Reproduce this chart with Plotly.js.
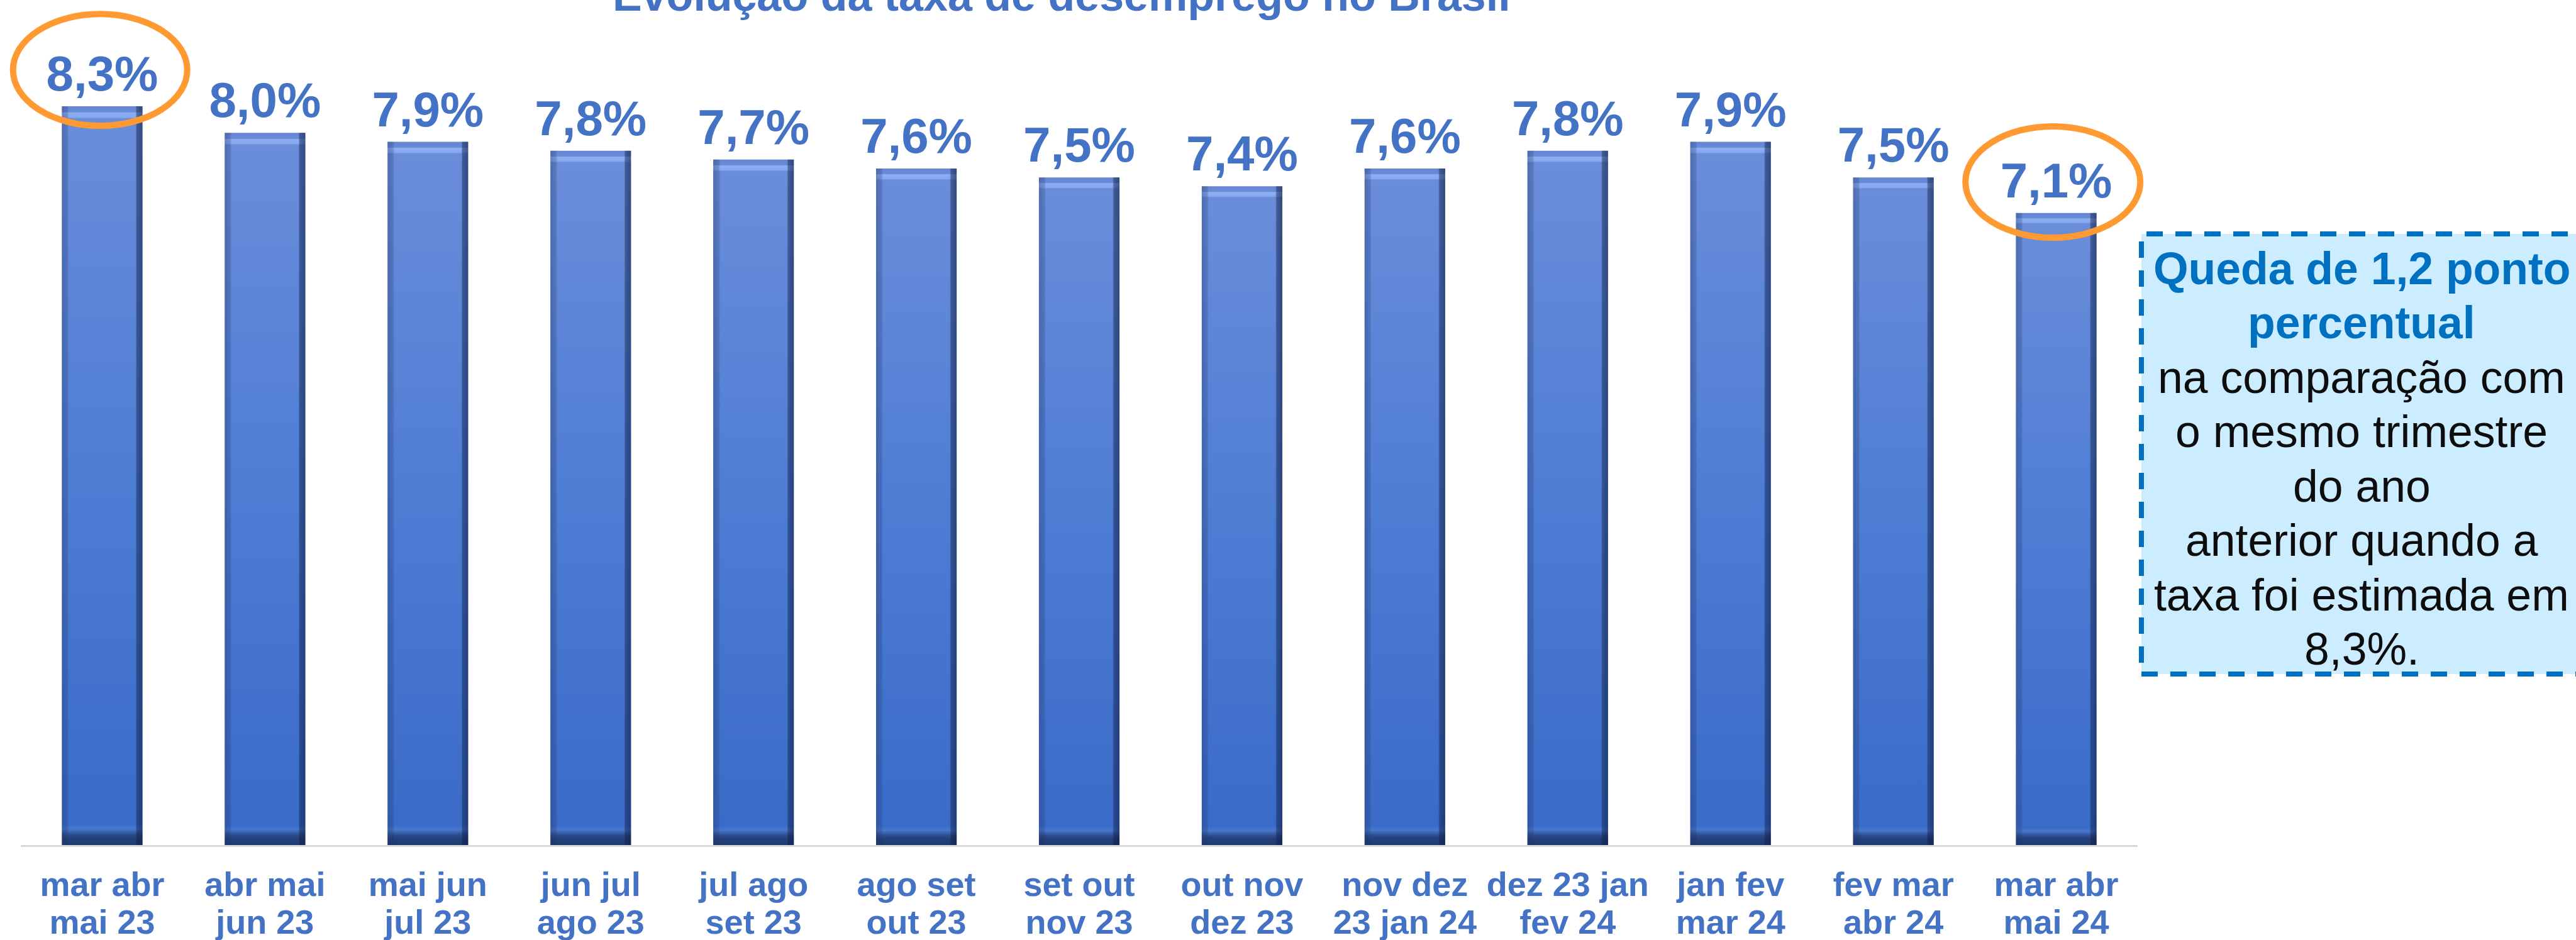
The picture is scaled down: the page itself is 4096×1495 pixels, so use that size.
<!DOCTYPE html>
<html>
<head>
<meta charset="utf-8">
<script src="https://cdn.plot.ly/plotly-3.0.1.min.js"></script>
<style>
  html, body { margin: 0; padding: 0; background: #ffffff; }
  #chart { width: 4096px; height: 1495px; }
</style>
</head>
<body>
<svg width="0" height="0" style="position:absolute">
  <defs>
    <linearGradient id="gv" x1="0" y1="0" x2="0" y2="1">
      <stop offset="0" stop-color="#6586D2"/>
      <stop offset="0.008" stop-color="#6A8CD8"/>
      <stop offset="0.009" stop-color="#8DB0F4"/>
      <stop offset="0.015" stop-color="#86A8EE"/>
      <stop offset="0.017" stop-color="#6A8DDA"/>
      <stop offset="0.5" stop-color="#4E7DD4"/>
      <stop offset="0.972" stop-color="#3A6BC8"/>
      <stop offset="0.978" stop-color="#4679D0"/>
      <stop offset="0.986" stop-color="#2C4C8C"/>
      <stop offset="0.99" stop-color="#24417C"/>
      <stop offset="1" stop-color="#1F3A70"/>
    </linearGradient>
    <linearGradient id="gh" x1="0" y1="0" x2="1" y2="0">
      <stop offset="0" stop-color="rgb(30,50,100)" stop-opacity="0.35"/>
      <stop offset="0.07" stop-color="rgb(30,50,100)" stop-opacity="0.22"/>
      <stop offset="0.085" stop-color="rgb(30,50,100)" stop-opacity="0"/>
      <stop offset="0.915" stop-color="rgb(15,30,70)" stop-opacity="0"/>
      <stop offset="0.93" stop-color="rgb(15,30,70)" stop-opacity="0.45"/>
      <stop offset="1" stop-color="rgb(15,30,70)" stop-opacity="0.6"/>
    </linearGradient>
  </defs>
</svg>
<div id="chart"></div>
<script>
// ---- data ----
const categories = [
  'mar abr<br>mai 23', 'abr mai<br>jun 23', 'mai jun<br>jul 23', 'jun jul<br>ago 23',
  'jul ago<br>set 23', 'ago set<br>out 23', 'set out<br>nov 23', 'out nov<br>dez 23',
  'nov dez<br>23 jan 24', 'dez 23 jan<br>fev 24', 'jan fev<br>mar 24', 'fev mar<br>abr 24',
  'mar abr<br>mai 24'
];
const rates = [8.3, 8.0, 7.9, 7.8, 7.7, 7.6, 7.5, 7.4, 7.6, 7.8, 7.9, 7.5, 7.1];
const chartTitle = 'Evolução da taxa de desemprego no Brasil';
const noteBold = ['Queda de 1,2 ponto', 'percentual'];
const noteText = ['na comparação com', 'o mesmo trimestre', 'do ano', 'anterior quando a', 'taxa foi estimada em', '8,3%.'];

// ---- geometry (window pixels) ----
const W = 4096, H = 1495;
const L = 33, R = 3399, TOP = 0, BASE = 1344;
const pw = R - L, ph = BASE - TOP;
const px = x => (x - L) / pw;
const py = y => (BASE - y) / ph;

const FONT = 'Liberation Sans, Arial, sans-serif';
const BLUE = '#4472C4';

const traces = [
  {
    type: 'bar', x: categories, y: rates,
    marker: { color: '#4E7DD4', line: { width: 0 } },
    texttemplate: '%{y:.1f}%', textposition: 'outside',
    constraintext: 'none', cliponaxis: false,
    textfont: { family: FONT, size: 78, color: BLUE, weight: 'bold' },
    hoverinfo: 'skip'
  },
  {
    type: 'bar', x: categories, y: rates,
    marker: { color: 'rgba(20,40,90,0.3)', line: { width: 0 } },
    hoverinfo: 'skip'
  }
];

const shapes = [
  { type: 'circle', xref: 'paper', yref: 'paper', layer: 'above',
    x0: px(20.7), x1: px(297.7), y0: py(200.1), y1: py(22.3),
    line: { color: '#FF9A33', width: 10 } },
  { type: 'circle', xref: 'paper', yref: 'paper', layer: 'above',
    x0: px(3125.2), x1: px(3403.2), y0: py(378), y1: py(201),
    line: { color: '#FF9A33', width: 10 } },
  { type: 'rect', xref: 'paper', yref: 'paper', layer: 'above',
    x0: px(3405), x1: px(4130), y0: py(1072), y1: py(372),
    fillcolor: '#CCECFF',
    line: { color: '#0070C0', width: 8, dash: '26px,20px' } }
];

const annotations = [
  { text: '<b>' + chartTitle + '</b>', xref: 'paper', yref: 'paper',
    x: px(1688), y: py(34), xanchor: 'center', yanchor: 'bottom', showarrow: false,
    font: { family: FONT, size: 70, color: BLUE } }
];
const baselines = [451.5, 538, 624.5, 711, 797.5, 884, 970.5, 1057];
const lines = noteBold.map(t => ({ t: '<b>' + t + '</b>', c: '#0070C0' }))
  .concat(noteText.map(t => ({ t: t, c: '#0D0D0D' })));
lines.forEach((ln, i) => {
  annotations.push({
    text: ln.t, xref: 'paper', yref: 'paper',
    x: px(3755), y: py(baselines[i] + 17), xanchor: 'center', yanchor: 'bottom',
    showarrow: false, font: { family: FONT, size: 71.5, color: ln.c }
  });
});

const layout = {
  width: W, height: H,
  margin: { l: L, r: W - R, t: TOP, b: H - BASE, pad: 0 },
  paper_bgcolor: '#ffffff', plot_bgcolor: '#ffffff',
  barmode: 'overlay', bargap: 0.505,
  separators: ',.',
  showlegend: false,
  xaxis: {
    type: 'category', range: [-0.5, categories.length - 0.5],
    showline: true, linecolor: '#D9D9D9', linewidth: 3,
    ticks: '', showgrid: false, zeroline: false,
    tickfont: { family: FONT, size: 54, color: BLUE, weight: 'bold' },
    ticklabelstandoff: 13
  },
  yaxis: {
    range: [0, ph / 141.58], visible: false, showgrid: false, zeroline: false
  },
  shapes: shapes,
  annotations: annotations
};

Plotly.newPlot('chart', traces, layout, { staticPlot: true, displayModeBar: false }).then(() => {
  const tr = document.querySelectorAll('#chart .barlayer .trace');
  if (tr[0]) tr[0].querySelectorAll('path').forEach(p => { p.style.fill = 'url(#gv)'; p.style.fillOpacity = '1'; });
  if (tr[1]) tr[1].querySelectorAll('path').forEach(p => { p.style.fill = 'url(#gh)'; p.style.fillOpacity = '1'; });
  // value labels sit slightly higher above the bars
  document.querySelectorAll('#chart .bartext').forEach(t => {
    const y = parseFloat(t.getAttribute('y') || '0');
    t.setAttribute('y', y - 5);
  });
  // tighter line spacing for the two-line category labels
  document.querySelectorAll('#chart .xtick text tspan.line').forEach(s => {
    if (s.getAttribute('dy') === '1.3em') s.setAttribute('dy', '1.11em');
  });
});
</script>
</body>
</html>
